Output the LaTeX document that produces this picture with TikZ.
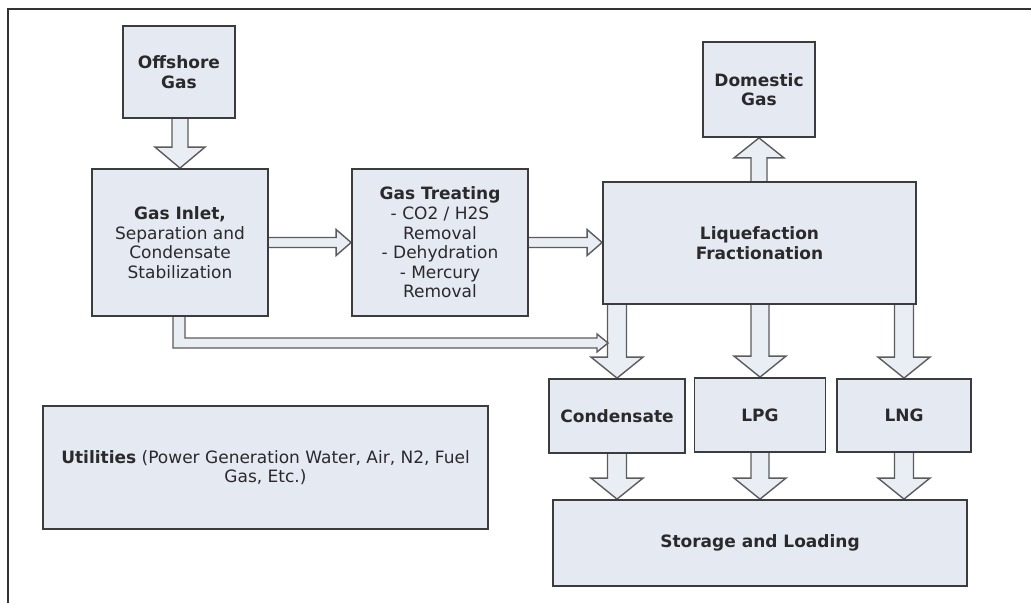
\documentclass[tikz,border=0pt]{standalone}
\usepackage{fontspec}
\setmainfont{DejaVu Sans}
\usetikzlibrary{calc,backgrounds}
\definecolor{boxfill}{HTML}{E4E9F2}
\definecolor{boxline}{HTML}{3C3C3C}
\definecolor{arrfill}{HTML}{E9EDF4}
\definecolor{arrline}{HTML}{5C5C5C}
\definecolor{txt}{HTML}{2A2A2A}
\definecolor{frameline}{HTML}{333333}
\tikzset{
  box/.style={draw=boxline, fill=boxfill, line width=1.8pt, align=center,
    text=txt, font=\fontsize{17}{19.6}\selectfont, inner sep=0pt},
  blk/.style={draw=arrline, fill=arrfill, line width=1.4pt, line join=miter},
}
% down arrow: start y from #1, tip at #2
\newcommand\darr[4]{\draw[blk] let \p1=#1, \p2=#2 in
  (\x2-#3,\y1) -- (\x2-#3,\y2+21pt) -- (\x2-#4,\y2+21pt) -- (\x2,\y2)
  -- (\x2+#4,\y2+21pt) -- (\x2+#3,\y2+21pt) -- (\x2+#3,\y1);}
% up arrow
\newcommand\uarr[4]{\draw[blk] let \p1=#1, \p2=#2 in
  (\x2-#3,\y1) -- (\x2-#3,\y2-20pt) -- (\x2-#4,\y2-20pt) -- (\x2,\y2)
  -- (\x2+#4,\y2-20pt) -- (\x2+#3,\y2-20pt) -- (\x2+#3,\y1);}
% right arrow
\newcommand\rarr[2]{\draw[blk] let \p1=#1, \p2=#2 in
  (\x1,\y1+5pt) -- (\x2-15pt,\y1+5pt) -- (\x2-15pt,\y1+13pt) -- (\x2,\y1)
  -- (\x2-15pt,\y1-13pt) -- (\x2-15pt,\y1-5pt) -- (\x1,\y1-5pt);}
\begin{document}
\begin{tikzpicture}[x=1pt,y=-1pt]
\useasboundingbox (0,0) rectangle (1031,603);
\draw[frameline, line width=2pt] (8,603) -- (8,9) -- (1031,9);

\node[box, minimum width=112pt, minimum height=92pt] (off) at (179,72)
  {\bfseries Offshore\\\bfseries Gas};
\node[box, minimum width=176pt, minimum height=147pt] (inlet) at (180,242.5)
  {\bfseries Gas Inlet,\\Separation and\\Condensate\\Stabilization};
\node[box, minimum width=176pt, minimum height=147pt] (treat) at (440,242.5)
  {\bfseries Gas Treating\\- CO2 / H2S\\Removal\\- Dehydration\\- Mercury\\Removal};
\node[box, minimum width=313pt, minimum height=122pt] (liq) at (759.5,243)
  {\bfseries Liquefaction\\\bfseries Fractionation};
\node[box, minimum width=112pt, minimum height=95pt] (dom) at (759,89.5)
  {\bfseries Domestic\\\bfseries Gas};
\node[box, minimum width=136pt, minimum height=74pt] (cond) at (617,416)
  {\bfseries Condensate};
\node[box, minimum width=131pt, minimum height=74pt] (lpg) at (760,415)
  {\bfseries LPG};
\node[box, minimum width=134pt, minimum height=73pt] (lng) at (904,415.5)
  {\bfseries LNG};
\node[box, minimum width=414pt, minimum height=86pt] (stor) at (760,543)
  {\bfseries Storage and Loading};
\node[box, minimum width=445pt, minimum height=123pt] (util) at (265.5,467.5)
  {{\bfseries Utilities} (Power Generation Water, Air, N2, Fuel\\Gas, Etc.)};
\coordinate (ctip) at (608,343);

\begin{scope}[on background layer]
  \fill[white] (0,0) rectangle (1031,603);
  \darr{(off.south)}{(inlet.north)}{8pt}{25pt}
  \rarr{(inlet.east)}{(treat.west)}
  \rarr{(treat.east)}{(treat.east -| liq.west)}
  \uarr{(liq.north)}{(dom.south)}{8pt}{25pt}
  \darr{(liq.south)}{(cond.north)}{9.5pt}{26pt}
  \darr{(liq.south)}{(lpg.north)}{9pt}{26pt}
  \darr{(liq.south)}{(lng.north)}{9.5pt}{26pt}
  \darr{(cond.south)}{(cond.south |- stor.north)}{9.5pt}{26pt}
  \darr{(lpg.south)}{(lpg.south |- stor.north)}{9pt}{26pt}
  \darr{(lng.south)}{(lng.south |- stor.north)}{9.5pt}{26pt}
  \draw[blk] let \p1=(inlet.south), \p2=(ctip) in
    (\x1-7pt,\y1) -- (\x1-7pt,\y2-5pt) -- (\x2-11pt,\y2-5pt) -- (\x2-11pt,\y2-9pt)
    -- (\x2,\y2) -- (\x2-11pt,\y2+9pt) -- (\x2-11pt,\y2+5pt) -- (\x1+5pt,\y2+5pt)
    -- (\x1+5pt,\y1);
\end{scope}
\end{tikzpicture}
\end{document}
